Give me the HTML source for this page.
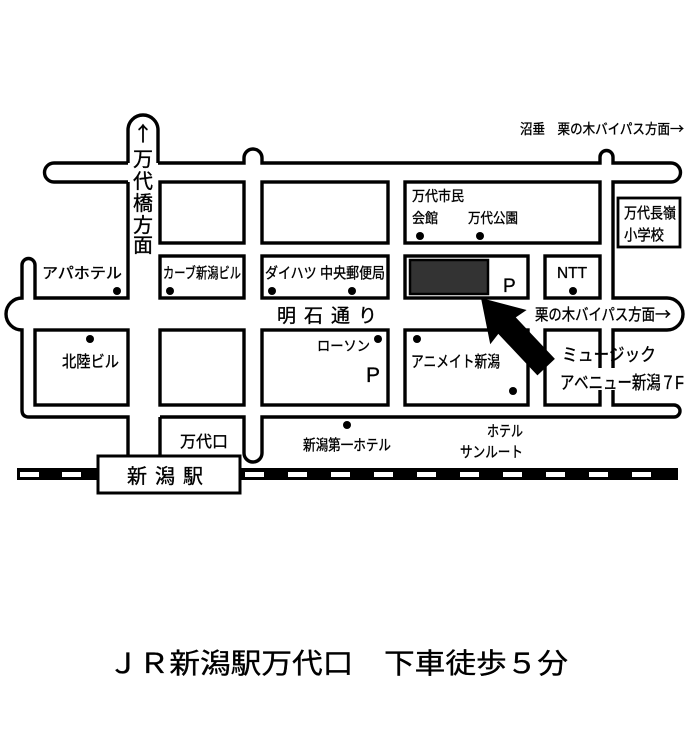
<!DOCTYPE html>
<html><head><meta charset="utf-8"><style>
html,body{margin:0;padding:0;background:#fff;}
svg{display:block;}
text{font-family:"Liberation Sans","Noto Sans CJK JP",sans-serif;fill:#000;}
.b{stroke:#000;stroke-width:0.35;}
.ar{font-family:"Noto Sans CJK JP",sans-serif;}
</style></head><body>
<svg width="700" height="746" viewBox="0 0 700 746" xmlns="http://www.w3.org/2000/svg">
<g fill="none" stroke="#000" stroke-width="3.4">
<rect x="160" y="182" width="84" height="61"/>
<rect x="262" y="182" width="126" height="61"/>
<rect x="405" y="182" width="195" height="61"/>
<rect x="160" y="256" width="84" height="42"/>
<rect x="262" y="256" width="126" height="42"/>
<rect x="405" y="256" width="123" height="42"/>
<rect x="545" y="256" width="55" height="42"/>
<rect x="35" y="330" width="93" height="75"/>
<rect x="160" y="330" width="84" height="75"/>
<rect x="262" y="330" width="126" height="75"/>
<rect x="405" y="330" width="123" height="75"/>
<rect x="545" y="330" width="55" height="75"/>
<rect x="618" y="198" width="62" height="49" stroke-width="2.8"/>
<path d="M128,163 L128,130 A15,15 0 0 1 158,130 L158,163"/>
<path d="M128,182 L128,298 L35,298 L35,265 A6.5,6.5 0 0 0 22,265 L22,298 A16,16 0 0 0 22,330 L22,410 Q22,417 29,417 L128,417 L128,455"/>
<path d="M160,417 L244,417 L244,453 A9,9 0 0 0 262,453 L262,417 L674,417 A6,6 0 0 0 674,405 L613,405 L613,385"/>
<path d="M613,375 L613,330 L667,330 A16,16 0 0 0 667,298 L613,298 L613,182 L671,182 A9.5,9.5 0 0 0 671,163 L613,163 L613,157 A6.5,6.5 0 0 0 600,157 L600,163 L262,163 L262,158 A9,9 0 0 0 244,158 L244,163 L158,163"/>
<path d="M128,163 L54,163 A9.5,9.5 0 0 0 54,182 L128,182"/>
<path d="M160,417 L160,455"/>
</g>
<rect x="410" y="260" width="78" height="34" fill="#333" stroke="#000" stroke-width="2.5"/>
<polygon transform="translate(481,298) rotate(46.7)" points="0,0 40,-25 38,-12 95,-12 95,12 38,12 40,25" fill="#000"/>
<rect x="17" y="468" width="661" height="12" fill="#000"/>
<g fill="#fff">
<rect x="20" y="472" width="19" height="5"/><rect x="62" y="472" width="19" height="5"/>
<rect x="245" y="472" width="19" height="5"/><rect x="288" y="472" width="19" height="5"/><rect x="331" y="472" width="19" height="5"/><rect x="374" y="472" width="19" height="5"/><rect x="417" y="472" width="19" height="5"/><rect x="460" y="472" width="19" height="5"/><rect x="503" y="472" width="19" height="5"/><rect x="546" y="472" width="19" height="5"/><rect x="589" y="472" width="19" height="5"/><rect x="632" y="472" width="19" height="5"/>
</g>
<rect x="98" y="456" width="142" height="37" fill="#fff" stroke="#000" stroke-width="3"/>
<text class="b" x="169" y="483" font-size="20" text-anchor="middle" letter-spacing="8">新潟駅</text>
<g fill="#000">
<circle cx="420" cy="236" r="4"/><circle cx="480" cy="236" r="4"/>
<circle cx="117" cy="291" r="4"/><circle cx="170" cy="291" r="4"/>
<circle cx="272" cy="291" r="4"/><circle cx="352" cy="291" r="4"/>
<circle cx="573" cy="291" r="4"/>
<circle cx="90" cy="339" r="4"/><circle cx="378" cy="339" r="4"/>
<circle cx="417" cy="339" r="4"/><circle cx="513" cy="391" r="4"/>
<circle cx="347" cy="425" r="4"/>
</g>
<g font-size="20" text-anchor="middle" class="b">
<text class="ar b" x="143" y="141" font-size="20">↑</text>
<text x="143" y="166">万</text>
<text x="143" y="188">代</text>
<text x="143" y="210">橋</text>
<text x="143" y="232">方</text>
<text x="143" y="252">面</text>
</g>
<g font-size="14" class="b">
<text x="520" y="134" textLength="150" lengthAdjust="spacingAndGlyphs">沼垂　栗の木バイパス方面</text>
<text class="ar" x="670" y="134" font-size="14">→</text>
<text x="412" y="201" textLength="52" lengthAdjust="spacingAndGlyphs">万代市民</text>
<text x="412" y="223" textLength="26" lengthAdjust="spacingAndGlyphs">会館</text>
<text x="468" y="223" textLength="50" lengthAdjust="spacingAndGlyphs">万代公園</text>
<text x="624" y="218" textLength="52" lengthAdjust="spacingAndGlyphs" font-size="15">万代長嶺</text>
<text x="624" y="240" textLength="40" lengthAdjust="spacingAndGlyphs" font-size="15">小学校</text>
<text x="42" y="278" textLength="80" lengthAdjust="spacingAndGlyphs" font-size="15">アパホテル</text>
<text x="163" y="278" textLength="78" lengthAdjust="spacingAndGlyphs" font-size="15">カーブ新潟ビル</text>
<text x="265" y="278" textLength="120" lengthAdjust="spacingAndGlyphs" font-size="15">ダイハツ 中央郵便局</text>
<text x="557" y="278" textLength="30" lengthAdjust="spacingAndGlyphs" font-size="16">NTT</text>
<text x="535" y="320" textLength="120" lengthAdjust="spacingAndGlyphs" font-size="16">栗の木バイパス方面</text>
<text class="ar b" x="655" y="320" font-size="16">→</text>
<text x="317" y="351" textLength="53" lengthAdjust="spacingAndGlyphs">ローソン</text>
<text x="411" y="367" textLength="89" lengthAdjust="spacingAndGlyphs" font-size="16">アニメイト新潟</text>
<text x="62" y="367" textLength="57" lengthAdjust="spacingAndGlyphs" font-size="16">北陸ビル</text>
<text x="180" y="447" textLength="48" lengthAdjust="spacingAndGlyphs" font-size="16">万代口</text>
<text x="303" y="450" textLength="88" lengthAdjust="spacingAndGlyphs" font-size="15">新潟第一ホテル</text>
<text x="487" y="436" textLength="36" lengthAdjust="spacingAndGlyphs" font-size="15">ホテル</text>
<text x="460" y="457" textLength="63" lengthAdjust="spacingAndGlyphs" font-size="15">サンルート</text>
</g>
<text class="b" x="277" y="322" font-size="19" textLength="100" lengthAdjust="spacing">明石通り</text>
<text class="b" x="503" y="292" font-size="19">P</text>
<text class="b" x="366" y="382" font-size="21">P</text>
<rect x="598" y="368" width="17" height="22" fill="#fff"/>
<text class="b" x="562" y="361" textLength="94" lengthAdjust="spacingAndGlyphs" font-size="18">ミュージック</text>
<text class="b" x="560" y="389" textLength="124" lengthAdjust="spacingAndGlyphs" font-size="18">アベニュー新潟７F</text>
<text class="b" x="108" y="673" font-size="28" textLength="460" lengthAdjust="spacingAndGlyphs">ＪＲ新潟駅万代口　下車徒歩５分</text>
</svg>
</body></html>
